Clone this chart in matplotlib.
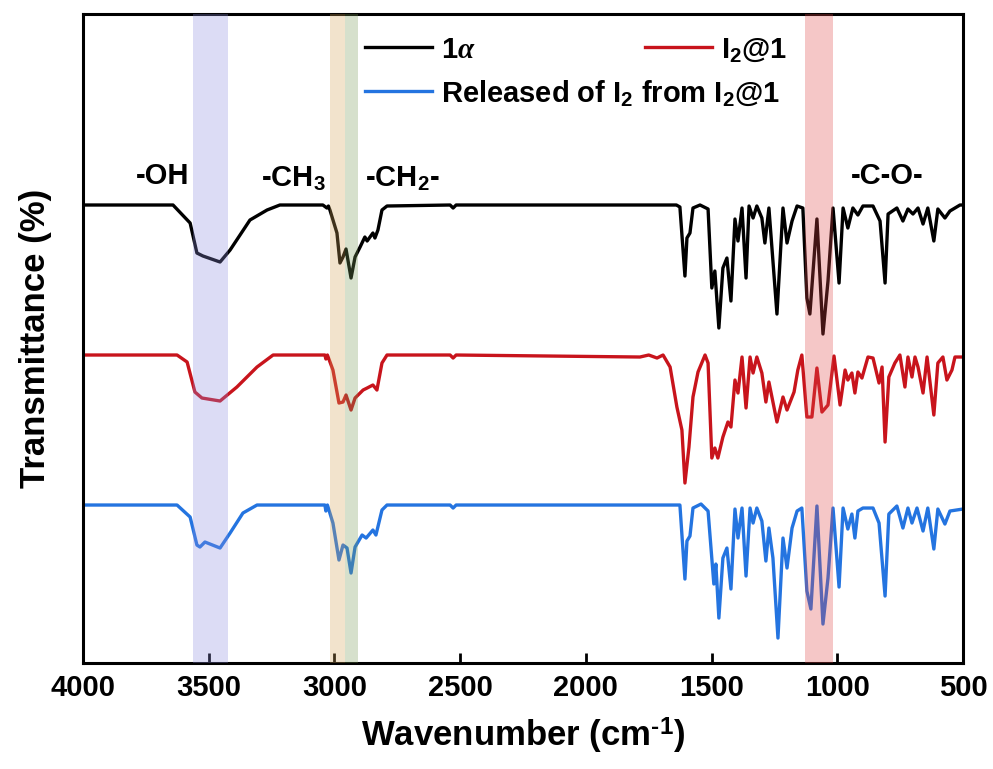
import numpy as np
import matplotlib
matplotlib.use("Agg")
import matplotlib.pyplot as plt

plt.rcParams['font.family'] = ['Liberation Sans', 'DejaVu Sans']
plt.rcParams['font.weight'] = 'bold'
plt.rcParams['mathtext.fontset'] = 'custom'
plt.rcParams['mathtext.rm'] = 'Liberation Sans:bold'
plt.rcParams['mathtext.bf'] = 'Liberation Sans:bold'
plt.rcParams['mathtext.it'] = 'Liberation Serif:italic'

# (wavenumber, transmittance) pairs, baseline at 100
pts_1a = [(4000, 100), (3642, 100), (3574, 82), (3547, 52), (3523, 49), (3455, 43), (3415, 55),
          (3336, 85), (3268, 95), (3217, 100), (3046, 100), (3030, 97), (3024, 99), (3018, 95),
          (2990, 72), (2978, 42), (2966, 48), (2954, 56), (2934, 27), (2918, 48), (2898, 58),
          (2879, 68), (2870, 64), (2847, 72), (2839, 67), (2827, 75), (2811, 95), (2791, 99),
          (2540, 100), (2528, 97), (2516, 100), (1640, 100), (1626, 98), (1606, 29), (1598, 67),
          (1586, 72), (1574, 97), (1546, 100), (1514, 96), (1499, 17), (1487, 34), (1471, -23),
          (1455, 37), (1439, 47), (1423, 4), (1407, 86), (1395, 64), (1379, 97), (1363, 27),
          (1351, 99), (1335, 87), (1320, 99), (1300, 87), (1288, 62), (1272, 97), (1240, -9),
          (1216, 97), (1200, 62), (1180, 84), (1160, 99), (1137, 97), (1121, 7), (1109, -9),
          (1081, 86), (1057, -29), (1037, 24), (1017, 97), (993, 22), (977, 97), (958, 77),
          (938, 97), (918, 90), (898, 99), (858, 99), (830, 84), (810, 22), (798, 91), (763, 97),
          (739, 84), (719, 96), (699, 91), (679, 97), (659, 81), (640, 97), (616, 64), (600, 96),
          (572, 87), (552, 94), (532, 97), (512, 100), (500, 100)]

pts_i2 = [(4000, 100), (3626, 100), (3586, 93), (3555, 63), (3527, 57), (3455, 54), (3388, 68),
          (3308, 88), (3244, 100), (3038, 100), (3034, 96), (3028, 100), (3006, 85), (2982, 52),
          (2966, 53), (2954, 60), (2934, 45), (2918, 57), (2886, 65), (2870, 67), (2847, 70),
          (2831, 65), (2811, 92), (2791, 100), (2540, 100), (2528, 97), (2516, 100), (1785, 98),
          (1750, 100), (1717, 97), (1693, 100), (1665, 88), (1638, 48), (1618, 25), (1606, -28),
          (1590, 8), (1574, 58), (1554, 83), (1526, 100), (1514, 92), (1499, -3), (1487, 7),
          (1475, -3), (1455, 18), (1435, 33), (1423, 28), (1407, 75), (1395, 62), (1379, 98),
          (1363, 47), (1347, 98), (1335, 82), (1320, 98), (1300, 82), (1284, 53), (1272, 73),
          (1240, 33), (1216, 58), (1200, 45), (1172, 63), (1157, 85), (1141, 100), (1121, 38),
          (1101, 38), (1081, 87), (1061, 43), (1037, 50), (1013, 99), (989, 50), (969, 85),
          (958, 75), (942, 82), (930, 62), (918, 83), (902, 77), (878, 98), (858, 97), (834, 72),
          (822, 88), (810, 13), (795, 78), (771, 92), (751, 100), (731, 68), (719, 98), (703, 78),
          (691, 98), (679, 88), (659, 62), (643, 98), (616, 40), (600, 92), (580, 98), (564, 75),
          (544, 85), (532, 98), (500, 98)]

pts_rel = [(4000, 100), (3626, 100), (3574, 88), (3547, 60), (3535, 58), (3515, 63), (3455, 57),
           (3415, 72), (3364, 92), (3308, 100), (3038, 100), (3034, 94), (3028, 100), (3006, 82),
           (2982, 45), (2966, 60), (2950, 57), (2934, 32), (2918, 58), (2890, 70), (2874, 67),
           (2847, 75), (2835, 70), (2811, 95), (2791, 100), (2540, 100), (2528, 97), (2516, 100),
           (1640, 100), (1626, 100), (1606, 26), (1598, 64), (1586, 69), (1574, 97), (1542, 101),
           (1514, 94), (1491, 21), (1483, 41), (1471, -13), (1455, 47), (1439, 57), (1423, 16),
           (1407, 96), (1395, 67), (1379, 97), (1363, 29), (1347, 97), (1335, 82), (1320, 97),
           (1300, 84), (1284, 44), (1272, 77), (1256, 47), (1236, -33), (1216, 67), (1200, 37),
           (1180, 77), (1160, 94), (1141, 97), (1121, 14), (1105, -4), (1081, 99), (1057, -19),
           (1037, 27), (1017, 97), (993, 18), (977, 97), (958, 76), (942, 91), (930, 67),
           (918, 94), (898, 97), (858, 97), (834, 82), (810, 9), (795, 91), (763, 99), (739, 77),
           (719, 97), (703, 82), (683, 97), (659, 74), (640, 97), (616, 56), (600, 96), (572, 81),
           (552, 94), (500, 96)]

labels = [r'1$\alpha$', r'I$_{\mathbf{2}}$@1', r'Released of I$_{\mathbf{2}}$ from I$_{\mathbf{2}}$@1']
colors = ['#000000', '#c8141c', '#2474e0']
offsets = [358, 208, 58]

# highlighted bands: (low, high, colour)
bands = [(3423, 3563, '#8e8ede'), (2958, 3018, '#d4a558'), (2906, 2958, '#7a9b58'),
         (1017, 1128, '#de4848')]

# group labels: (wavenumber, y, text)
groups = [(3682, 487, '-OH'), (3165, 484, r'-CH$_{\mathbf{3}}$'),
          (2731, 484, r'-CH$_{\mathbf{2}}$-'), (802, 487, '-C-O-')]

fig = plt.figure(figsize=(9.93, 7.69), dpi=100)
ax = fig.add_axes([0.0836, 0.1378, 0.8862, 0.844])

lines = []
for pts, c, off in zip([pts_1a, pts_i2, pts_rel], colors, offsets):
    wn, t = np.array(pts, dtype=float).T
    ln, = ax.plot(wn, t + off, color=c, lw=2.4, zorder=2, solid_joinstyle='round')
    lines.append(ln)

for lo, hi, c in bands:
    ax.axvspan(lo, hi, color=c, alpha=0.3, lw=0, zorder=3)

for x, y, s in groups:
    ax.text(x, y, s, fontsize=21, fontweight='bold', ha='center', va='center')

ax.set_xlim(4000, 500)
ax.set_ylim(0, 649)
ax.set_xticks(np.arange(4000, 499, -500))
ax.set_yticks([])
ax.tick_params(axis='x', direction='in', length=7, width=2, labelsize=21, pad=8)
for lab in ax.get_xticklabels():
    lab.set_fontweight('bold')
for sp in ax.spines.values():
    sp.set_linewidth(2.2)

ax.set_xlabel(r'Wavenumber (cm$^{\text{-1}}$)', fontsize=25, fontweight='bold', labelpad=10)
ax.set_ylabel('Transmittance (%)', fontsize=25, fontweight='bold', labelpad=22)

leg1 = ax.legend([lines[0], lines[2]], [labels[0], labels[2]], loc='upper left',
                 bbox_to_anchor=(0.291, 1.007), frameon=False, fontsize=21,
                 handlelength=2.3, handletextpad=0.3, labelspacing=0.5)
ax.add_artist(leg1)
ax.legend([lines[1]], [labels[1]], loc='upper right', bbox_to_anchor=(0.83, 1.007),
          frameon=False, fontsize=21, handlelength=2.3, handletextpad=0.3)

fig.savefig('out.png', dpi=100)
